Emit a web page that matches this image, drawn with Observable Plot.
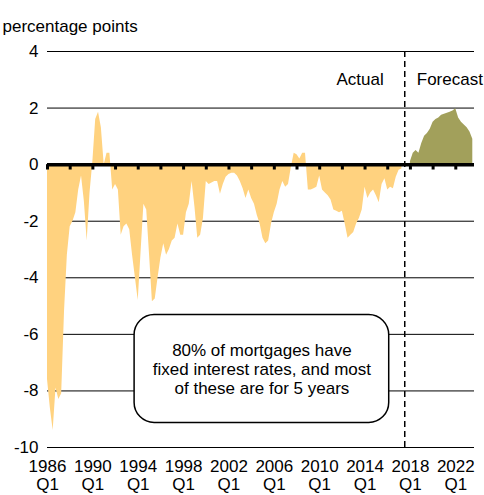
<!DOCTYPE html>
<html>
<head>
<meta charset="utf-8">
<script src="https://cdn.jsdelivr.net/npm/d3@7"></script>
<script src="https://cdn.jsdelivr.net/npm/@observablehq/plot@0.6"></script>
<style>
  html, body { margin: 0; padding: 0; background: #fff; }
</style>
</head>
<body>
<div id="chart"></div>
<script>
// ---- Data (quarterly, percentage points) ----
const actualStartYear = 1986;   // first value = 1986 Q1
const actualValues = [
  -7.6, -8.6, -9.4, -7.9, -8.3, -8.1, -5.2, -3.2, -2.2, -2.0, -1.7, -0.9, -0.4, -1.3, -2.7, -1.0,
   0.1,  1.6,  1.85, 1.3,  0.0,  0.4,  0.4, -0.9, -0.7, -0.9, -2.5, -2.2, -2.1, -2.3, -3.2, -4.0,
  -4.8, -3.1, -1.4, -1.6, -3.2, -4.85,-4.75,-4.0, -3.3, -2.8, -3.2, -3.0, -2.7, -2.6, -2.1, -2.5,
  -2.5, -1.7, -1.4, -0.6, -1.5, -2.6, -2.5, -1.9, -0.6, -0.7, -0.65,-0.6, -0.6, -1.05,-0.7, -0.45,
  -0.35,-0.3, -0.3, -0.4, -0.6, -0.85,-1.2, -0.9, -1.2, -1.4, -1.8, -2.1, -2.6, -2.8, -2.7, -2.1,
  -1.7, -1.4, -0.9, -0.6, -0.8, -0.7, -0.1,  0.4,  0.35, 0.2,  0.4,  0.4, -0.9, -0.9, -0.85,-0.8,
  -0.4, -0.9, -1.0, -1.1, -1.25,-1.6, -1.65,-1.7, -1.65,-2.1, -2.6, -2.5, -2.4, -2.1, -1.9, -1.6,
  -0.8, -1.2, -1.0, -0.9, -1.1, -1.35,-0.7, -0.5, -0.9, -0.8, -0.85,-0.45,-0.2, -0.15
];
const forecastStartYear = 2018; // first value = 2018 Q1
const forecastValues = [
  0.1, 0.4, 0.5, 0.4, 0.75, 1.0, 1.1, 1.25, 1.5, 1.6, 1.65, 1.75,
  1.78, 1.82, 1.85, 1.9, 1.98, 1.65, 1.5, 1.4, 1.3, 1.15, 0.9
];
const yTicks = [-10, -8, -6, -4, -2, 0, 2, 4];
const labelYears = [1986, 1990, 1994, 1998, 2002, 2006, 2010, 2014, 2018, 2022];
const minorTickYears = [1986, 1988, 1990, 1992, 1994, 1996, 1998, 2000, 2002, 2004, 2006, 2008, 2010, 2012, 2014, 2016, 2018, 2020, 2022];
const dividerDate = 2017.5;
const yTitle = "percentage points";
const actualLabel = "Actual";
const forecastLabel = "Forecast";
const noteText = "80% of mortgages have\nfixed interest rates, and most\nof these are for 5 years";
const noteBox = { x1: 1993.68, x2: 2016.13, y1: -5.32, y2: -9.13, ty: -7.23 };

// ---- Build tables ----
const actual = actualValues.map((v, i) => ({ date: actualStartYear + i / 4, value: v }));
const forecast = forecastValues.map((v, i) => ({ date: forecastStartYear + i / 4, value: v }));

const FONT = '"Liberation Sans", Arial, Helvetica, sans-serif';
const FS = 17;

const chart = Plot.plot({
  width: 484,
  height: 495,
  marginLeft: 47,
  marginRight: 10,
  marginTop: 51,
  marginBottom: 48,
  style: { fontFamily: FONT, fontSize: FS + "px", background: "white", color: "black" },
  x: { type: "linear", domain: [1986, 2023.65], axis: null },
  y: { domain: [-10, 4], axis: null },
  marks: [
    Plot.ruleY(yTicks, { stroke: "#000", strokeWidth: 1 }),
    Plot.areaY(actual, { x: "date", y: "value", fill: "#ffd27f" }),
    Plot.areaY(forecast, { x: "date", y: "value", fill: "#a2a05b" }),
    Plot.ruleY([0], { stroke: "#000", strokeWidth: 3.5 }),
    Plot.ruleX(minorTickYears, { x: d => d, y1: 0, y2: -0.19, stroke: "#000", strokeWidth: 3 }),
    Plot.ruleX([dividerDate], { y1: -10, y2: 4, stroke: "#000", strokeWidth: 1.5, strokeDasharray: "6,4" }),
    Plot.axisY({ ticks: yTicks, tickSize: 0, tickPadding: 9, tickFormat: d => String(d), fontSize: FS, fill: "#000" }),
    Plot.text(labelYears, { x: d => d, text: d => `${d}\nQ1`, frameAnchor: "bottom", lineAnchor: "top", dy: 12, lineHeight: 1.06, fontSize: FS, fill: "#000" }),
    Plot.text([yTitle], { text: d => d, frameAnchor: "top-left", textAnchor: "start", dx: -45, dy: -32, fontSize: FS, fill: "#000" }),
    Plot.text([actualLabel], { x: () => dividerDate, y: () => 3, text: d => d, textAnchor: "end", dx: -21, fontSize: FS, fill: "#000" }),
    Plot.text([forecastLabel], { x: () => dividerDate, y: () => 3, text: d => d, textAnchor: "start", dx: 12, fontSize: FS, fill: "#000" }),
    Plot.rect([noteBox], { x1: "x1", x2: "x2", y1: "y1", y2: "y2", rx: 20, fill: "white", stroke: "#000", strokeWidth: 1.5 }),
    Plot.text([noteBox], { x: d => (d.x1 + d.x2) / 2, y: "ty", text: () => noteText, lineHeight: 1.13, fontSize: FS, fill: "#000" })
  ]
});
document.getElementById("chart").appendChild(chart);
</script>
</body>
</html>
